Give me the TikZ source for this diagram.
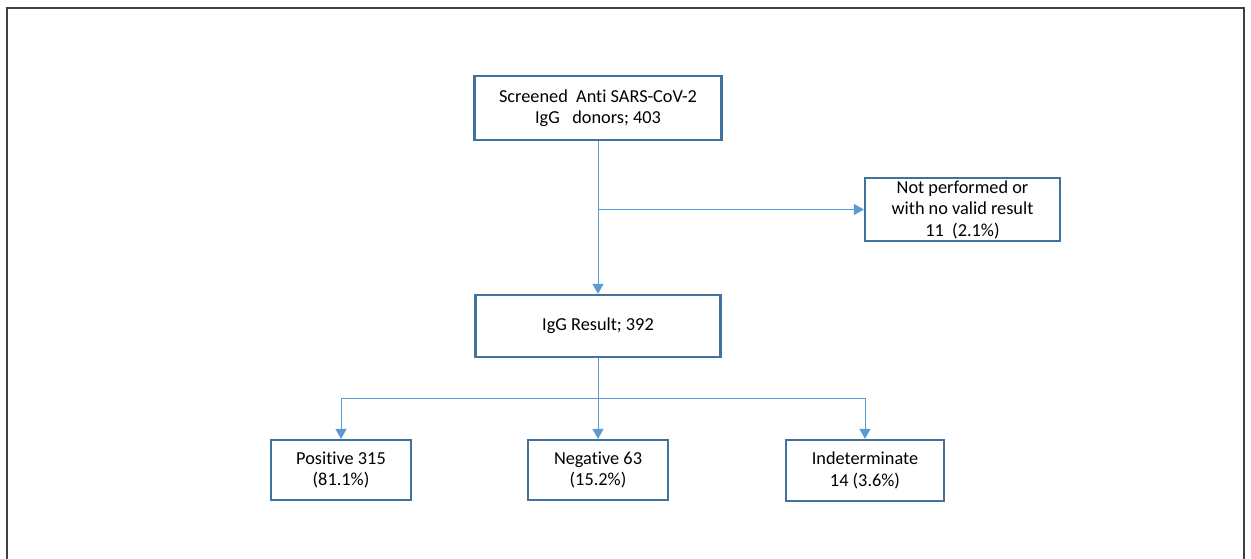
\documentclass[tikz,border=0pt]{standalone}
\usepackage{fontspec}
\setmainfont{Carlito}[Ligatures={NoCommon}]
\usepackage{tikz}
\usetikzlibrary{arrows.meta, positioning}
\definecolor{boxblue}{HTML}{41719C}
\definecolor{lineblue}{HTML}{5B9BD5}
\tikzstyle{stage} = [
  rectangle, draw=boxblue, line width=2.2pt, fill=white,
  align=center, inner sep=0pt,
  font=\fontsize{18.3}{21.5}\selectfont
]
\tikzstyle{arrow} = [-{Triangle[length=10pt,width=11pt]}, draw=lineblue, line width=1pt]
\tikzstyle{link} = [draw=lineblue, line width=1pt]

\begin{document}
\begin{tikzpicture}[x=1pt, y=-1pt]

  % Canvas and frame
  \useasboundingbox (0,0) rectangle (1251,558);
  \begin{scope}
    \clip (0,0) rectangle (1251,558);
    \draw[line width=1.6pt, black!75] (7,8) rectangle (1244,580);
  \end{scope}

  % Stages
  \node[stage, minimum width=247pt, minimum height=64pt] (screen) at (598,108)
    {Screened\ \ Anti SARS-CoV-2\\IgG\ \ \ donors; 403};
  \node[stage, minimum width=195pt, minimum height=63pt] (excl) at (962.5,209.5)
    {Not performed or\\with no valid result\\11\ \ (2.1\%)};
  \node[stage, minimum width=245pt, minimum height=62pt] (result) at (598,326)
    {IgG Result; 392};

  % Outcomes
  \node[stage, minimum width=140pt, minimum height=60pt] (pos) at (341,470)
    {Positive 315\\(81.1\%)};
  \node[stage, minimum width=140pt, minimum height=60pt] (neg) at (598,470)
    {Negative 63\\(15.2\%)};
  \node[stage, minimum width=158pt, minimum height=61pt] (ind) at (865,470.5)
    {Indeterminate\\14 (3.6\%)};

  % Flow
  \draw[arrow] (screen) -- (result);
  \draw[arrow] (screen.south |- excl.west) -- (excl.west);

  \coordinate (fork) at (598,398);
  \draw[link] (result) -- (fork);
  \foreach \b in {pos,neg,ind}
    \draw[arrow] (fork) -| (\b.north);

\end{tikzpicture}
\end{document}
